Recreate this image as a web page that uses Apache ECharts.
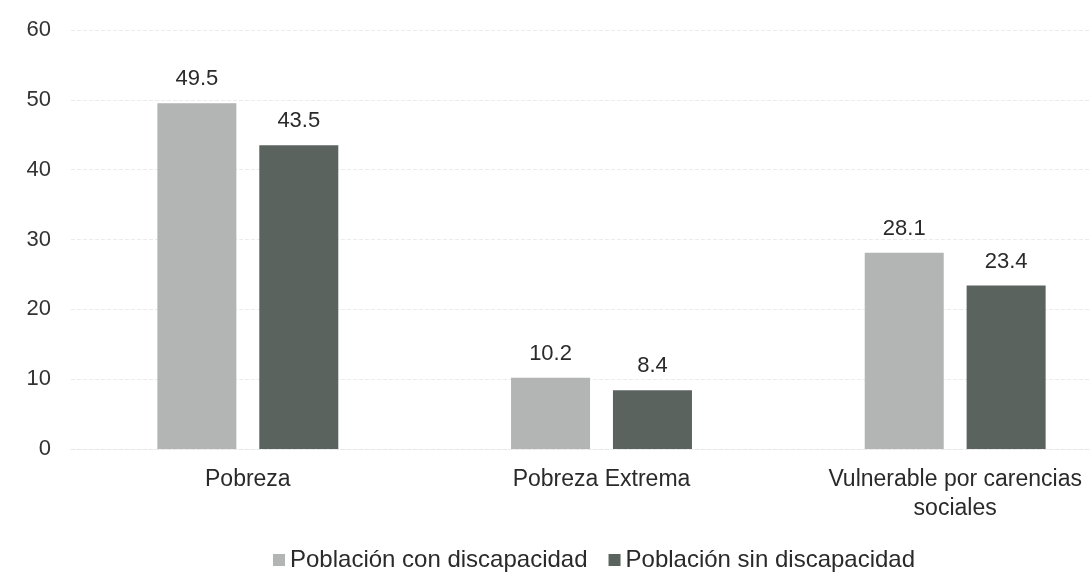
<!DOCTYPE html>
<html>
<head>
<meta charset="utf-8">
<script src="https://cdn.jsdelivr.net/npm/echarts@6/dist/echarts.min.js"></script>
<style>html,body{margin:0;padding:0;background:#fff}#c{width:1090px;height:581px}</style>
</head>
<body>
<div id="c"></div>
<script>
var categories = ['Pobreza', 'Pobreza Extrema', 'Vulnerable por carencias\nsociales'];
var seriesNames = ['Población con discapacidad', 'Población sin discapacidad'];
var conDiscapacidad = [49.5, 10.2, 28.1];
var sinDiscapacidad = [43.5, 8.4, 23.4];
var yTicks = [0, 10, 20, 30, 40, 50, 60];

var chart = echarts.init(document.getElementById('c'));
var font = 'Liberation Sans, Arial, sans-serif';
chart.setOption({
  animation: false,
  backgroundColor: '#fff',
  grid: { left: 71, top: 30, width: 1061, height: 419, outerBoundsMode: 'none', containLabel: false },
  legend: {
    bottom: 4, left: 268,
    itemWidth: 12, itemHeight: 12, itemGap: 21,
    icon: 'rect',
    textStyle: { fontFamily: font, fontSize: 24, color: '#2a2a2a', padding: [0, 0, 0, 0] },
    data: seriesNames
  },
  xAxis: {
    type: 'category', data: categories,
    axisLine: { show: true, lineStyle: { color: '#e8e8e8', type: 'dashed' } },
    axisTick: { show: false },
    axisLabel: { margin: 16, fontFamily: font, fontSize: 23, color: '#2a2a2a', lineHeight: 29, interval: 0 }
  },
  yAxis: {
    type: 'value', min: yTicks[0], max: yTicks[yTicks.length - 1], interval: 10,
    axisLine: { show: false }, axisTick: { show: false },
    axisLabel: { margin: 20, fontFamily: font, fontSize: 22, color: '#333' },
    splitLine: { lineStyle: { color: '#ebebeb', type: 'dashed' } }
  },
  series: [
    {
      name: seriesNames[0], type: 'bar', data: conDiscapacidad,
      barWidth: 79, barGap: '29%',
      itemStyle: { color: '#b2b5b4' },
      label: { show: true, position: 'top', distance: 13, fontFamily: font, fontSize: 22, color: '#2a2a2a' }
    },
    {
      name: seriesNames[1], type: 'bar', data: sinDiscapacidad,
      barWidth: 79, barGap: '29%',
      itemStyle: { color: '#5b635f' },
      label: { show: true, position: 'top', distance: 13, fontFamily: font, fontSize: 22, color: '#2a2a2a' }
    }
  ]
});
</script>
</body>
</html>
